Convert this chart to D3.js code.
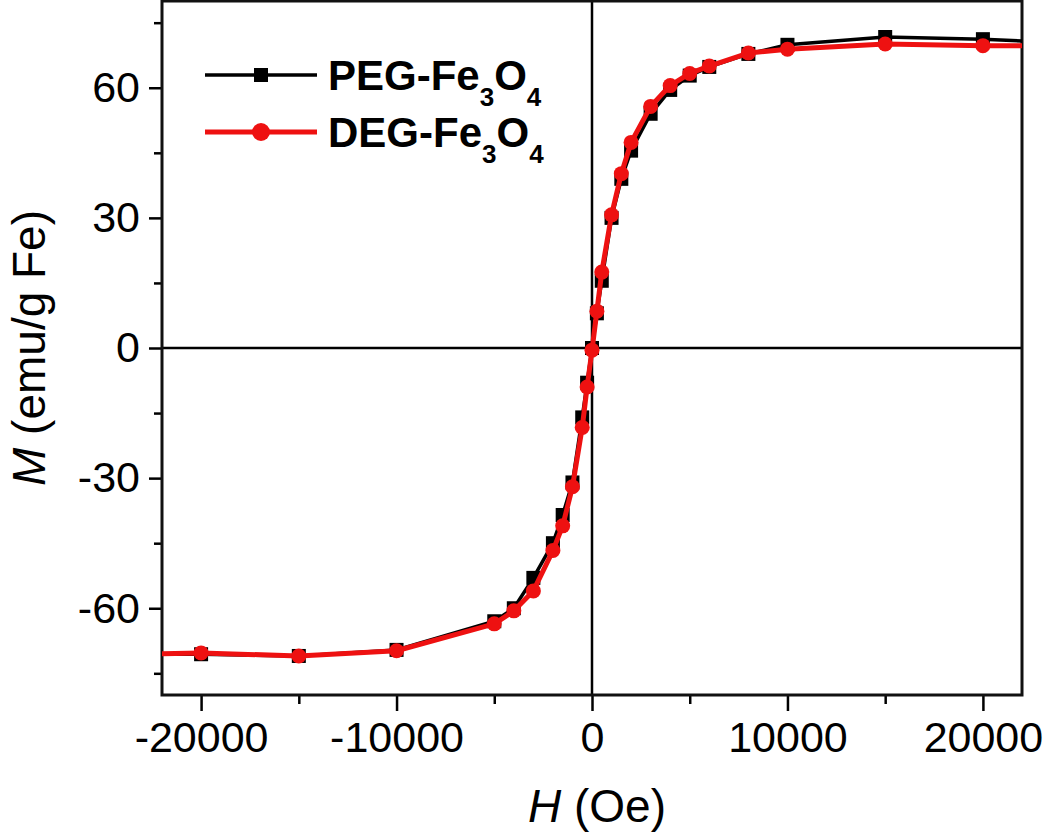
<!DOCTYPE html>
<html>
<head>
<meta charset="utf-8">
<script src="https://cdn.jsdelivr.net/npm/d3@7"></script>
<style>
  body { margin: 0; background: #fff; }
  svg { display: block; font-family: Arial, "Liberation Sans", sans-serif; }
</style>
</head>
<body>
<script>
const width = 1050;
const height = 836;
const margin = { top: 1, right: 28, bottom: 141, left: 162 };

// field values (Oe) for each series
const pegH = [-25000, -20000, -15000, -10000, -5000, -4000, -3000, -2000, -1500, -1000, -500, -250, 0,
  250, 500, 1000, 1500, 2000, 3000, 4000, 5000, 6000, 8000, 10000, 15000, 20000, 25000];
const pegM = [-70.6, -70.6, -71.0, -69.6, -63.0, -60.0, -53.0, -45.0, -38.5, -31.0, -16.0, -8.0, 0,
  8.0, 15.5, 30.0, 39.0, 45.5, 54.0, 59.5, 62.8, 64.8, 67.8, 69.9, 71.7, 71.2, 70.2];

const degH = pegH;
const degM = [-70.8, -70.3, -71.0, -69.8, -63.6, -60.6, -56.0, -46.7, -41.0, -32.0, -18.3, -9.0, -0.5,
  8.5, 17.5, 30.7, 40.2, 47.4, 55.7, 60.5, 63.3, 65.0, 68.0, 68.9, 70.1, 69.7, 69.6];

const xTicks = [-20000, -10000, 0, 10000, 20000];
const xMinor = [-15000, -5000, 5000, 15000];
const yTicks = [-60, -30, 0, 30, 60];
const yMinor = [-75, -45, -15, 15, 45, 75];

const series = [
  { name: 'PEG', h: pegH, m: pegM, color: '#000', shape: 'square', lw: 3.5 },
  { name: 'DEG', h: degH, m: degM, color: '#ee1111', shape: 'circle', lw: 5 }
];

const svg = d3.select('body').append('svg')
  .attr('width', width)
  .attr('height', height);

const x = d3.scaleLinear()
  .domain([-22000, 22000])
  .range([margin.left, width - margin.right]);

const y = d3.scaleLinear()
  .domain([-80, 80])
  .range([height - margin.bottom, margin.top]);

svg.append('clipPath').attr('id', 'clip')
  .append('rect')
  .attr('x', margin.left)
  .attr('y', margin.top)
  .attr('width', width - margin.left - margin.right)
  .attr('height', height - margin.top - margin.bottom);

// zero lines
svg.append('line')
  .attr('x1', x(0)).attr('x2', x(0))
  .attr('y1', y.range()[1]).attr('y2', y.range()[0])
  .attr('stroke', '#000').attr('stroke-width', 2.5);
svg.append('line')
  .attr('x1', x.range()[0]).attr('x2', x.range()[1])
  .attr('y1', y(0)).attr('y2', y(0))
  .attr('stroke', '#000').attr('stroke-width', 2.5);

const fmt = d => d < 0 ? '-' + Math.abs(d) : String(d);

// axes
const xAxisG = svg.append('g')
  .attr('transform', `translate(0,${height - margin.bottom})`)
  .call(d3.axisBottom(x).tickValues(xTicks).tickSize(16).tickPadding(10).tickFormat(fmt));
const xMinorG = svg.append('g')
  .attr('transform', `translate(0,${height - margin.bottom})`)
  .call(d3.axisBottom(x).tickValues(xMinor).tickSize(9).tickFormat(() => ''));

const yAxisG = svg.append('g')
  .attr('transform', `translate(${margin.left},0)`)
  .call(d3.axisLeft(y).tickValues(yTicks).tickSize(13).tickPadding(9).tickFormat(fmt));
const yMinorG = svg.append('g')
  .attr('transform', `translate(${margin.left},0)`)
  .call(d3.axisLeft(y).tickValues(yMinor).tickSize(8).tickFormat(() => ''));

xMinorG.selectAll('text').remove();
yMinorG.selectAll('text').remove();
svg.selectAll('.domain').remove();
svg.selectAll('.tick line').attr('stroke', '#000').attr('stroke-width', 2.5);
svg.selectAll('.tick text')
  .attr('font-size', 43)
  .attr('fill', '#000');

// frame
svg.append('rect')
  .attr('x', margin.left)
  .attr('y', margin.top)
  .attr('width', width - margin.left - margin.right)
  .attr('height', height - margin.top - margin.bottom)
  .attr('fill', 'none')
  .attr('stroke', '#111')
  .attr('stroke-width', 3);

// data
const plot = svg.append('g').attr('clip-path', 'url(#clip)');
const line = d3.line().x(d => x(d[0])).y(d => y(d[1]));

for (const s of series) {
  const pts = s.h.map((h, i) => [h, s.m[i]]);
  const g = plot.append('g');
  g.append('path')
    .datum(pts)
    .attr('d', line)
    .attr('fill', 'none')
    .attr('stroke', s.color)
    .attr('stroke-width', s.lw)
    .attr('stroke-linejoin', 'round');
  if (s.shape === 'square') {
    g.selectAll('rect').data(pts).join('rect')
      .attr('x', d => x(d[0]) - 7)
      .attr('y', d => y(d[1]) - 7)
      .attr('width', 14).attr('height', 14)
      .attr('fill', s.color);
  } else {
    g.selectAll('circle').data(pts).join('circle')
      .attr('cx', d => x(d[0]))
      .attr('cy', d => y(d[1]))
      .attr('r', 7.5)
      .attr('fill', s.color);
  }
}

// legend
const legend = svg.append('g');
series.forEach((s, i) => {
  const ly = 75 + i * 57;
  legend.append('line')
    .attr('x1', 205).attr('x2', 317)
    .attr('y1', ly).attr('y2', ly)
    .attr('stroke', s.color).attr('stroke-width', s.lw);
  if (s.shape === 'square') {
    legend.append('rect').attr('x', 261 - 7).attr('y', ly - 7)
      .attr('width', 14).attr('height', 14).attr('fill', s.color);
  } else {
    legend.append('circle').attr('cx', 261).attr('cy', ly).attr('r', 9).attr('fill', s.color);
  }
  const t = legend.append('text')
    .attr('x', 328).attr('y', ly + 15)
    .attr('font-size', 42).attr('font-weight', 'bold').attr('fill', '#000');
  t.append('tspan').text(s.name + '-Fe');
  t.append('tspan').attr('font-size', 26).attr('dy', 16).text('3');
  t.append('tspan').attr('dy', -16).text('O');
  t.append('tspan').attr('font-size', 26).attr('dy', 16).text('4');
});

// axis titles
const xt = svg.append('text')
  .attr('x', (x.range()[0] + x.range()[1]) / 2 + 5)
  .attr('y', 822)
  .attr('text-anchor', 'middle')
  .attr('font-size', 46)
  .attr('fill', '#000');
xt.append('tspan').attr('font-style', 'italic').text('H');
xt.append('tspan').text(' (Oe)');

const yt = svg.append('text')
  .attr('transform', `translate(45,${y(0)}) rotate(-90)`)
  .attr('text-anchor', 'middle')
  .attr('font-size', 46)
  .attr('fill', '#000');
yt.append('tspan').attr('font-style', 'italic').text('M');
yt.append('tspan').text(' (emu/g Fe)');
</script>
</body>
</html>
